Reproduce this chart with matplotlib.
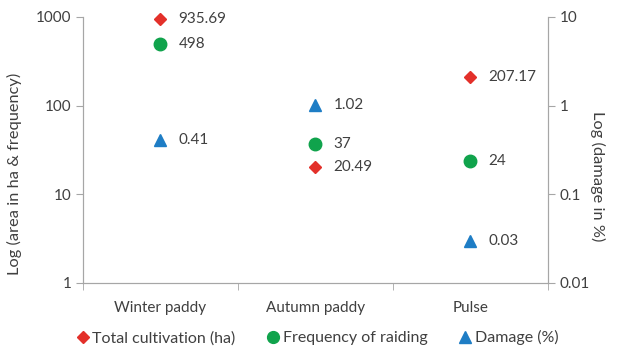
import matplotlib.pyplot as plt
from matplotlib.lines import Line2D
from matplotlib.ticker import FixedLocator, NullLocator

plt.rcParams['font.family'] = ['Lato', 'DejaVu Sans']

crops = ['Winter paddy', 'Autumn paddy', 'Pulse']
cultivation = [935.69, 20.49, 207.17]
raiding = [498, 37, 24]
damage = [0.41, 1.02, 0.03]

red = '#E3302A'
green = '#10A34C'
blue = '#1E7DC5'
grey = '#A6A6A6'
txt = '#404040'
fs = 11

fig = plt.figure(figsize=(6.24, 3.51), dpi=100)
ax = fig.add_axes([0.133, 0.194, 0.745, 0.758])
ax2 = ax.twinx()

x = range(len(crops))
ax.plot(x, cultivation, 'D', color=red, ms=6.5, ls='none', clip_on=False)
ax.plot(x, raiding, 'o', color=green, ms=9, ls='none', clip_on=False)
ax2.plot(x, damage, '^', color=blue, ms=9, ls='none', clip_on=False)

for i in x:
    ax.annotate(f'{cultivation[i]:.2f}', (i, cultivation[i]), xytext=(13, 0),
                textcoords='offset points', va='center', fontsize=fs, color=txt)
    ax.annotate(f'{raiding[i]}', (i, raiding[i]), xytext=(13, 0),
                textcoords='offset points', va='center', fontsize=fs, color=txt)
    ax2.annotate(f'{damage[i]:.2f}', (i, damage[i]), xytext=(13, 0),
                 textcoords='offset points', va='center', fontsize=fs, color=txt)

ax.set_yscale('log')
ax.set_ylim(1, 1000)
ax.set_yticks([1, 10, 100, 1000])
ax.set_yticklabels(['1', '10', '100', '1000'])
ax.yaxis.set_minor_locator(NullLocator())

ax2.set_yscale('log')
ax2.set_ylim(0.01, 10)
ax2.set_yticks([0.01, 0.1, 1, 10])
ax2.set_yticklabels(['0.01', '0.1', '1', '10'])
ax2.yaxis.set_minor_locator(NullLocator())

ax.set_xlim(-0.5, 2.5)
ax.set_xticks(list(x))
ax.set_xticklabels(crops)
ax.xaxis.set_minor_locator(FixedLocator([-0.5, 0.5, 1.5, 2.5]))
ax.tick_params(axis='x', which='major', length=0, pad=13)
ax.tick_params(axis='x', which='minor', length=5, color=grey)

for a in (ax, ax2):
    a.spines['top'].set_visible(False)
    for s in ('left', 'right', 'bottom'):
        a.spines[s].set_color(grey)
    a.tick_params(axis='y', which='major', length=5, color=grey,
                  labelsize=fs, labelcolor=txt)
ax.tick_params(axis='x', labelsize=fs, labelcolor=txt)

ax.set_ylabel('Log (area in ha & frequency)', fontsize=11.8, color=txt)
ax.yaxis.set_label_coords(-0.131, 0.41)
ax2.set_ylabel('Log (damage in %)', fontsize=11.8, color=txt, rotation=270)
ax2.yaxis.set_label_coords(1.123, 0.40)

handles = [
    Line2D([], [], marker='D', color=red, ls='none', ms=6),
    Line2D([], [], marker='o', color=green, ls='none', ms=8.5),
    Line2D([], [], marker='^', color=blue, ls='none', ms=8.5),
]
labels = ['Total cultivation (ha)', 'Frequency of raiding', 'Damage (%)']
leg = fig.legend(handles, labels, loc='lower center', bbox_to_anchor=(0.509, -0.025),
                 ncol=3, frameon=False, fontsize=11.5, handlelength=0.7,
                 handletextpad=0.25, columnspacing=2.0)
for t in leg.get_texts():
    t.set_color(txt)

fig.savefig('out.png', dpi=100)
